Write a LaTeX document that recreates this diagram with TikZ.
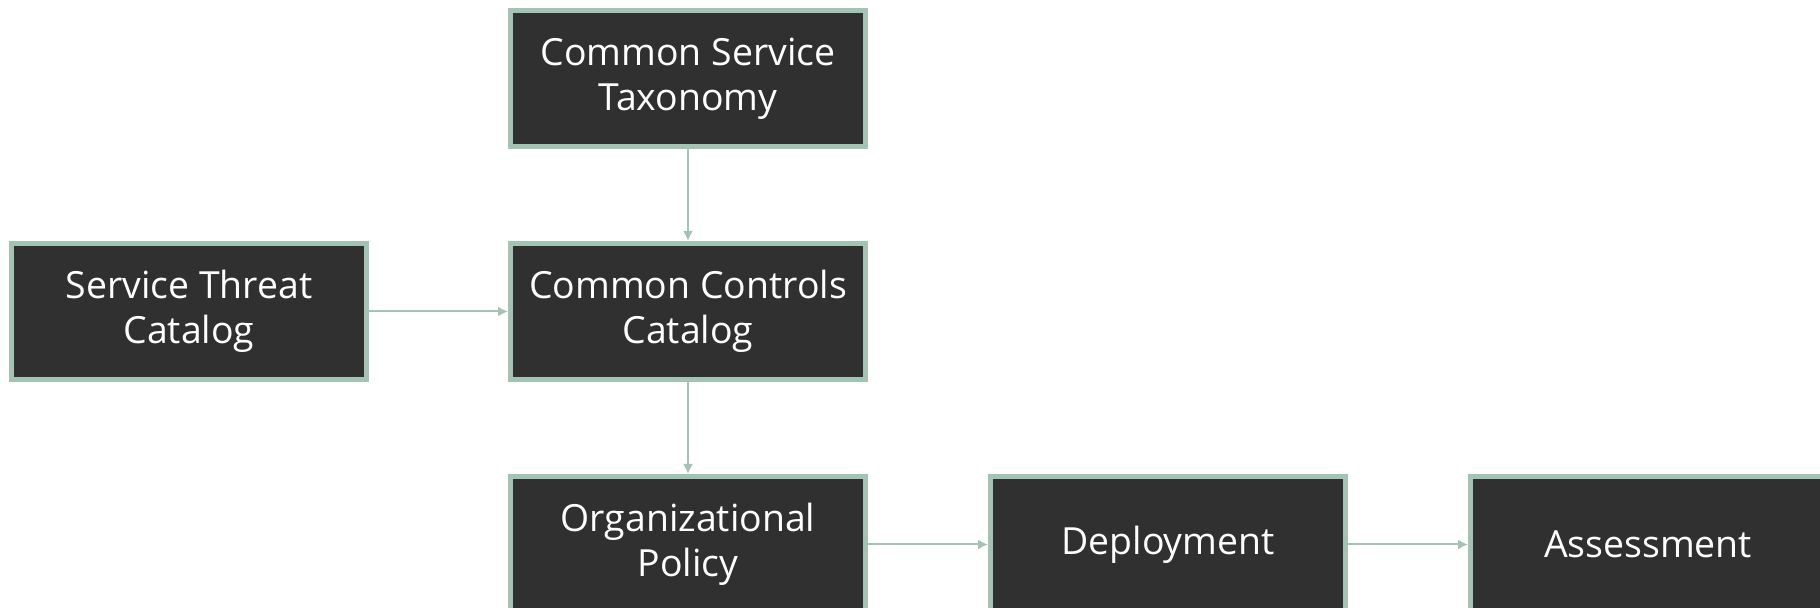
\documentclass[tikz,border=0pt]{standalone}
\usepackage{fontspec}
\setmainfont{Open Sans}
\usetikzlibrary{positioning,arrows.meta}
\definecolor{boxfill}{HTML}{303030}
\definecolor{boxline}{HTML}{A3C3B4}
\tikzset{
  stage/.style={draw=boxline, fill=boxfill, line width=2.5pt, text=white,
    minimum width=177.5pt, minimum height=68pt, align=center,
    font=\fontsize{18.7pt}{22.5pt}\selectfont},
  flow/.style={draw=boxline, line width=1pt, -{Latex[length=5pt,width=5pt]}}
}
\begin{document}
\begin{tikzpicture}[x=0.5pt, y=-0.5pt, node distance=46pt and 60pt]
  \useasboundingbox (0,0) rectangle (1820,608);
  \node[stage] (taxonomy) at (688,78.5) {Common Service\\Taxonomy};
  \node[stage, below=of taxonomy] (controls) {Common Controls\\Catalog};
  \node[stage, left=69.5pt of controls] (threats) {Service Threat\\Catalog};
  \node[stage, below=of controls] (policy) {Organizational\\Policy};
  \node[stage, right=of policy] (deploy) {Deployment};
  \node[stage, right=of deploy] (assess) {Assessment};
  \draw[flow] (taxonomy) -- (controls);
  \draw[flow] (threats) -- (controls);
  \draw[flow] (controls) -- (policy);
  \draw[flow] (policy) -- (deploy);
  \draw[flow] (deploy) -- (assess);
\end{tikzpicture}
\end{document}
